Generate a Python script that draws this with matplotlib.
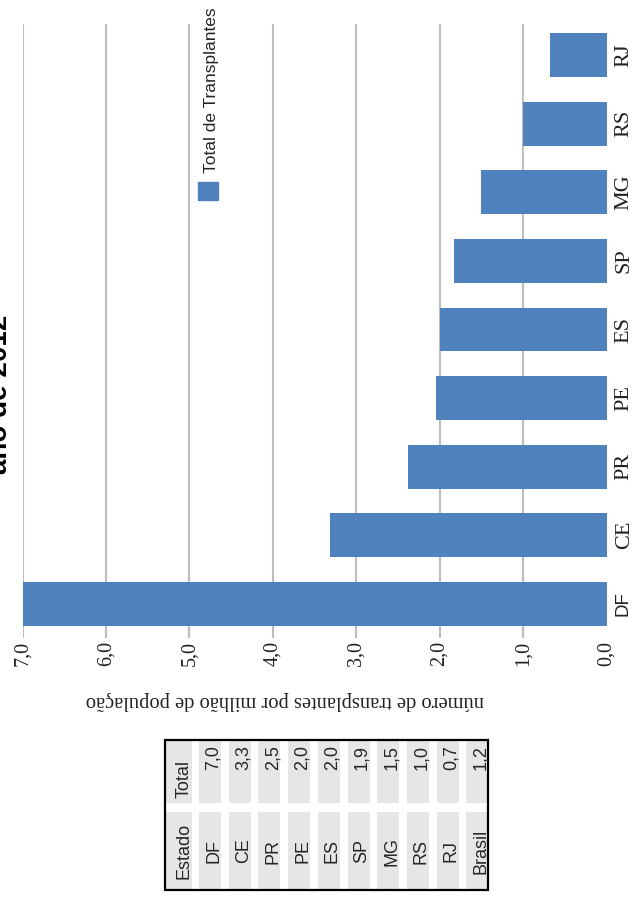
import matplotlib.pyplot as plt
from matplotlib.patches import Rectangle

# figure size in pixels (page is drawn rotated, like the scanned original)
W, H = 637, 897

#### data
estados = ['DF', 'CE', 'PR', 'PE', 'ES', 'SP', 'MG', 'RS', 'RJ']
valores = [7.0, 3.32, 2.38, 2.04, 2.0, 1.83, 1.51, 1.0, 0.68]
escala = [0, 1, 2, 3, 4, 5, 6, 7]
escala_labels = ['0,0', '1,0', '2,0', '3,0', '4,0', '5,0', '6,0', '7,0']

tabela_estados = ['DF', 'CE', 'PR', 'PE', 'ES', 'SP', 'MG', 'RS', 'RJ', 'Brasil']
tabela_totais = ['7,0', '3,3', '2,5', '2,0', '2,0', '1,9', '1,5', '1,0', '0,7', '1,2']

azul = '#4f81bd'
serif = 'Liberation Serif'
sans = 'Liberation Sans'


def fx(x):
    return x / W


def fy(y):
    return 1 - y / H


fig = plt.figure(figsize=(W / 100, H / 100), dpi=100)

#### bars
ax = fig.add_axes([fx(22.5), fy(638), (606.5 - 22.5) / W, (638 - 21) / H])
ax.barh(range(len(estados)), valores, height=0.64, color=azul, zorder=2)
ax.set_xlim(7, 0)
ax.set_ylim(-0.5, 8.5)
ax.vlines(escala[1:], -0.5, 8.45, color='#bdbdbd', lw=1.5, zorder=0)
for s in ax.spines.values():
    s.set_visible(False)

ax.set_xticks(escala)
ax.set_xticklabels(escala_labels, rotation=90, fontsize=14.5, family=serif,
                   color='#222222')
ax.tick_params(axis='x', length=0, pad=2)

ax.yaxis.tick_right()
ax.set_yticks(range(len(estados)))
ax.set_yticklabels(estados, rotation=90, fontsize=16, family=serif,
                   va='center', color='#222222')
ax.tick_params(axis='y', length=0, pad=6)
ax.get_yticklabels()[0].set_fontfamily(sans)
ax.get_yticklabels()[0].set_fontsize(13.5)

#### title (cut at the page edge, as in the scan) and legend
fig.text(fx(13), fy(394), 'ano de 2012', rotation=90, ha='right',
         va='center', fontsize=20, weight='bold', family=sans)
fig.add_artist(Rectangle((fx(198), fy(200)), 20 / W, 18 / H,
                         transform=fig.transFigure, color=azul))
fig.text(fx(204), fy(173), 'Total de Transplantes', rotation=90, ha='left',
         va='bottom', fontsize=12.5, family=sans, color='#262626')

## axis label, upside down
fig.text(fx(285), fy(700), 'número de transplantes por milhão de população',
         rotation=180, ha='center', va='center', fontsize=14.8, family=serif,
         color='#222222')

#### table
cinza = '#e6e6e6'
linhas = [(741, 803), (812, 889)]
colunas = [(166, 192)] + [(199 + i * 29.7, 221 + i * 29.7) for i in range(len(tabela_estados))]

for (x0, x1) in colunas:
    for (y0, y1) in linhas:
        fig.add_artist(Rectangle((fx(x0), fy(y1)), (x1 - x0) / W, (y1 - y0) / H,
                                 transform=fig.transFigure, color=cinza, lw=0))

fig.add_artist(Rectangle((fx(165), fy(890)), (488 - 165) / W, (890 - 740) / H,
                         transform=fig.transFigure, fill=False, ec='black', lw=1.6))

col_txt = ['Estado'] + tabela_estados
tot_txt = ['Total'] + tabela_totais
for i, (x0, x1) in enumerate(colunas):
    xr = fx(x1 + 1)
    fig.text(xr, fy(851), col_txt[i], rotation=90, ha='right', va='center',
             fontsize=13, family=sans, color='#262626')
    if i == 0:
        fig.text(xr, fy(798), tot_txt[i], rotation=90, ha='right', va='bottom',
                 fontsize=13, family=sans, color='#262626')
    else:
        fig.text(xr, fy(745), tot_txt[i], rotation=90, ha='right', va='top',
                 fontsize=13, family=sans, color='#262626')

fig.savefig('out.png', dpi=100)
